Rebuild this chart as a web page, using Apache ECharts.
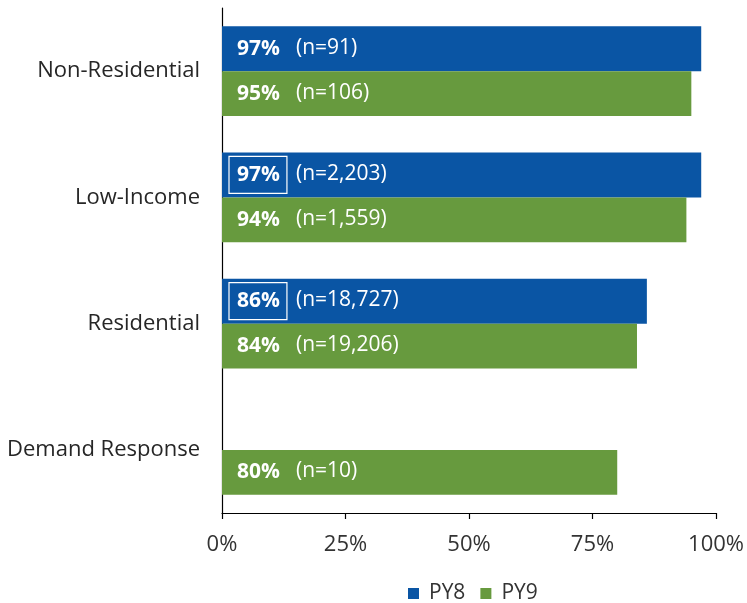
<!DOCTYPE html>
<html>
<head>
<meta charset="utf-8">
<script src="https://cdn.jsdelivr.net/npm/echarts@6/dist/echarts.min.js"></script>
<style>
  html, body { margin: 0; padding: 0; background: #ffffff; }
  #chart { width: 747px; height: 603px; }
</style>
</head>
<body>
<div id="chart"></div>
<script>
// Program categories, top to bottom
const categories = ['Non-Residential', 'Low-Income', 'Residential', 'Demand Response'];
// Share of respondents (%) per program year
const py8Values = [97, 97, 86, null];
const py9Values = [95, 94, 84, 80];
// Sample sizes shown beside each percentage
const py8Counts = ['91', '2,203', '18,727', null];
const py9Counts = ['106', '1,559', '19,206', '10'];
// Percentages drawn inside a white outline
const py8Boxed = [false, true, true, false];
const py9Boxed = [false, false, false, false];
const xTicks = [0, 25, 50, 75, 100];

const FONT = '"Open Sans", "Liberation Sans", sans-serif';
const BLUE = '#0A55A4';
const GREEN = '#679A3E';

function buildData(values, counts, boxed) {
  return values.map((v, i) => {
    if (v === null) return null;
    return {
      value: v,
      label: {
        formatter: '{' + (boxed[i] ? 'pb' : 'p') + '|' + v + '%}{n|(n=' + counts[i] + ')}'
      }
    };
  });
}

const labelRich = {
  p: { color: '#fff', fontWeight: 'bold', fontSize: 21, lineHeight: 22, fontFamily: FONT,
       padding: [8, 7, 8, 8], borderColor: 'transparent', borderWidth: 1 },
  pb: { color: '#fff', fontWeight: 'bold', fontSize: 21, lineHeight: 22, fontFamily: FONT,
        padding: [8, 7, 8, 8], borderColor: '#ffffff', borderWidth: 1.2 },
  n: { color: '#fff', fontSize: 21, lineHeight: 22, fontFamily: FONT, padding: [0, 0, 2, 9] }
};

const chart = echarts.init(document.getElementById('chart'), null, { renderer: 'canvas' });
chart.setOption({
  animation: false,
  backgroundColor: '#ffffff',
  grid: { left: 222, right: 28, top: 8, bottom: 90, containLabel: false },
  legend: {
    data: ['PY8', 'PY9'],
    left: 403,
    top: 578,
    itemWidth: 11,
    itemHeight: 11,
    itemGap: 15,
    icon: 'rect',
    textStyle: { fontFamily: FONT, fontSize: 21, color: '#333', padding: [0, 0, 0, 5] }
  },
  xAxis: {
    type: 'value',
    min: 0,
    max: 100,
    interval: 25,
    axisLine: { show: true, lineStyle: { color: '#000', width: 1.2 } },
    axisTick: { show: true, length: 6, lineStyle: { color: '#000', width: 1.2 } },
    splitLine: { show: false },
    axisLabel: {
      formatter: function (v) { return xTicks.indexOf(v) >= 0 ? v + '%' : ''; },
      fontFamily: FONT, fontSize: 22, color: '#333', margin: 21
    }
  },
  yAxis: {
    type: 'category',
    data: categories,
    inverse: true,
    axisLine: { show: true, lineStyle: { color: '#000', width: 1.2 } },
    axisTick: { show: false },
    axisLabel: { fontFamily: FONT, fontSize: 22, color: '#262626', margin: 22 }
  },
  series: [
    {
      name: 'PY8',
      type: 'bar',
      data: buildData(py8Values, py8Counts, py8Boxed),
      itemStyle: { color: BLUE },
      barGap: '0%',
      barCategoryGap: '29%',
      label: { show: true, position: 'insideLeft', distance: 7, rich: labelRich }
    },
    {
      name: 'PY9',
      type: 'bar',
      data: buildData(py9Values, py9Counts, py9Boxed),
      itemStyle: { color: GREEN },
      barGap: '0%',
      barCategoryGap: '29%',
      label: { show: true, position: 'insideLeft', distance: 7, rich: labelRich }
    }
  ]
});
</script>
</body>
</html>
